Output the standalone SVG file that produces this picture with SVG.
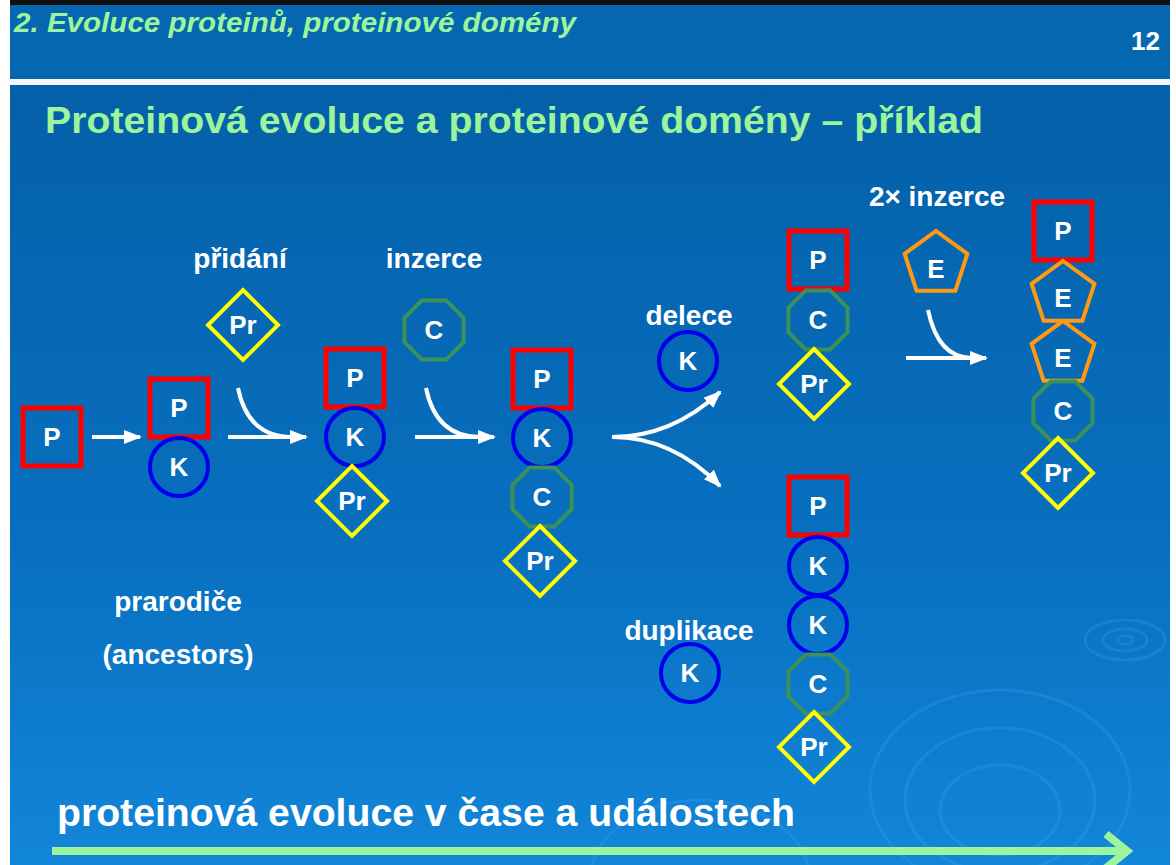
<svg xmlns="http://www.w3.org/2000/svg" width="1176" height="865" viewBox="0 0 1176 865">
<defs>
<linearGradient id="bg" x1="0" y1="0" x2="0" y2="1">
<stop offset="0" stop-color="#0460a8"/>
<stop offset="0.6" stop-color="#0870c0"/>
<stop offset="1" stop-color="#1286da"/>
</linearGradient>
<marker id="ah" markerUnits="userSpaceOnUse" markerWidth="18" markerHeight="18" viewBox="0 0 18 18" refX="16" refY="9" orient="auto">
<path d="M0,2 L18,9 L0,16 Z" fill="#ffffff"/>
</marker>
<rect id="sq" x="-29" y="-29" width="58" height="58"/>
<polygon id="oct" points="-12.2,-29.6 12.2,-29.6 29.6,-12.2 29.6,12.2 12.2,29.6 -12.2,29.6 -29.6,12.2 -29.6,-12.2"/>
<polygon id="dia" points="0,-35 35,0 0,35 -35,0"/>
<polygon id="pen" points="0,-33 31.4,-10.2 19.4,26.7 -19.4,26.7 -31.4,-10.2"/>
</defs>
<style>
.p{fill:none;stroke:#ff0000;stroke-width:5}
.k{fill:none;stroke:#0000ee;stroke-width:4}
.c{fill:none;stroke:#3a9258;stroke-width:4}
.pr{fill:none;stroke:#ffff00;stroke-width:4}
.e{fill:none;stroke:#ff9a10;stroke-width:4}
.t{font-family:"Liberation Sans",Arial,sans-serif;font-weight:bold;font-size:26px;fill:#ffffff;text-anchor:middle}
.lab{font-family:"Liberation Sans",Arial,sans-serif;font-weight:bold;font-size:28px;fill:#ffffff;text-anchor:middle}
.ar{fill:none;stroke:#ffffff;stroke-width:4}
.rip{fill:none;stroke:#3aa0ea;stroke-opacity:0.28;stroke-width:3}
</style>
<rect x="0" y="0" width="1176" height="865" fill="#ffffff"/>
<rect x="10" y="0" width="1160" height="6" fill="#101010"/>
<rect x="10" y="5" width="1160" height="74" fill="#0567b0"/>
<rect x="10" y="79" width="1160" height="6" fill="#f4f8fc"/>
<rect x="10" y="85" width="1160" height="780" fill="url(#bg)"/>
<g id="ripples">
<ellipse class="rip" cx="1125" cy="640" rx="40" ry="20"/>
<ellipse class="rip" cx="1125" cy="640" rx="22" ry="11"/>
<ellipse class="rip" cx="1125" cy="640" rx="8" ry="4"/>
<ellipse class="rip" cx="1000" cy="790" rx="130" ry="100"/>
<ellipse class="rip" cx="1000" cy="800" rx="95" ry="72"/>
<ellipse class="rip" cx="1000" cy="810" rx="60" ry="45"/>
<ellipse class="rip" cx="700" cy="880" rx="110" ry="80"/>
</g>
<text x="14" y="32" font-family="'Liberation Sans',Arial,sans-serif" font-weight="bold" font-style="italic" font-size="28" fill="#9cf59c" textLength="562" lengthAdjust="spacingAndGlyphs">2. Evoluce proteinů, proteinové domény</text>
<text x="1160" y="50" font-family="'Liberation Sans',Arial,sans-serif" font-weight="bold" font-size="26" fill="#ffffff" text-anchor="end">12</text>
<text x="45" y="133" font-family="'Liberation Sans',Arial,sans-serif" font-weight="bold" font-size="37" fill="#9cf59c" textLength="938" lengthAdjust="spacingAndGlyphs">Proteinová evoluce a proteinové domény – příklad</text>
<text class="lab" x="240" y="268">přidání</text>
<text class="lab" x="434" y="268">inzerce</text>
<text class="lab" x="689" y="325">delece</text>
<text class="lab" x="937" y="206">2× inzerce</text>
<text class="lab" x="178" y="611">prarodiče</text>
<text class="lab" x="178" y="664">(ancestors)</text>
<text class="lab" x="689" y="640">duplikace</text>
<text x="57" y="826" font-family="'Liberation Sans',Arial,sans-serif" font-weight="bold" font-size="38" fill="#ffffff" textLength="738" lengthAdjust="spacingAndGlyphs">proteinová evoluce v čase a událostech</text>
<g id="connectors">
<line class="ar" x1="92" y1="437" x2="140" y2="437" marker-end="url(#ah)"/>
<line class="ar" x1="228" y1="437" x2="306" y2="437" marker-end="url(#ah)"/>
<path class="ar" d="M238,388 Q248,437 292,437"/>
<line class="ar" x1="415" y1="437" x2="494" y2="437" marker-end="url(#ah)"/>
<path class="ar" d="M426,388 Q436,437 480,437"/>
<path class="ar" d="M612,437 C655,437 690,420 720,392" marker-end="url(#ah)"/>
<path class="ar" d="M612,437 C655,437 690,455 720,486" marker-end="url(#ah)"/>
<line class="ar" x1="906" y1="358" x2="986" y2="358" marker-end="url(#ah)"/>
<path class="ar" d="M928,310 Q938,358 972,358"/>
<g id="time-arrow" stroke="#9cf59c" stroke-width="8" fill="none">
<line x1="52" y1="851" x2="1126" y2="851"/>
<polyline points="1106,834 1127,851 1106,868" stroke-linejoin="miter"/>
</g>
</g>
<g id="n-p0"><use href="#sq" class="p" x="52" y="437"/><text class="t" x="52" y="446">P</text></g>
<g id="n-pk">
<use href="#sq" class="p" x="179" y="408"/><text class="t" x="179" y="417">P</text>
<circle class="k" cx="179" cy="467" r="29"/><text class="t" x="179" y="476">K</text>
</g>
<g id="n-add-pr"><use href="#dia" class="pr" x="243" y="325"/><text class="t" x="243" y="334">Pr</text></g>
<g id="n-pkpr">
<use href="#sq" class="p" x="355" y="378"/><text class="t" x="355" y="387">P</text>
<circle class="k" cx="355" cy="437" r="29"/><text class="t" x="355" y="446">K</text>
<use href="#dia" class="pr" x="352" y="501"/><text class="t" x="352" y="510">Pr</text>
</g>
<g id="n-ins-c"><use href="#oct" class="c" x="434" y="330"/><text class="t" x="434" y="339">C</text></g>
<g id="n-pkcpr">
<use href="#sq" class="p" x="542" y="379"/><text class="t" x="542" y="388">P</text>
<circle class="k" cx="542" cy="438" r="29"/><text class="t" x="542" y="447">K</text>
<use href="#oct" class="c" x="542" y="497"/><text class="t" x="542" y="506">C</text>
<use href="#dia" class="pr" x="540" y="561"/><text class="t" x="540" y="570">Pr</text>
</g>
<g id="n-del-k"><circle class="k" cx="688" cy="361" r="29"/><text class="t" x="688" y="370">K</text></g>
<g id="n-pcpr">
<use href="#sq" class="p" x="818" y="260"/><text class="t" x="818" y="269">P</text>
<use href="#oct" class="c" x="818" y="320"/><text class="t" x="818" y="329">C</text>
<use href="#dia" class="pr" x="814" y="384"/><text class="t" x="814" y="393">Pr</text>
</g>
<g id="n-ins-e"><use href="#pen" class="e" x="936" y="264"/><text class="t" x="936" y="278">E</text></g>
<g id="n-peecpr">
<use href="#sq" class="p" x="1063" y="231"/><text class="t" x="1063" y="240">P</text>
<use href="#pen" class="e" x="1063" y="294"/><text class="t" x="1063" y="307">E</text>
<use href="#pen" class="e" x="1063" y="354"/><text class="t" x="1063" y="367">E</text>
<use href="#oct" class="c" x="1063" y="411"/><text class="t" x="1063" y="420">C</text>
<use href="#dia" class="pr" x="1058" y="473"/><text class="t" x="1058" y="482">Pr</text>
</g>
<g id="n-dup-k"><circle class="k" cx="690" cy="673" r="29"/><text class="t" x="690" y="682">K</text></g>
<g id="n-pkkcpr">
<use href="#sq" class="p" x="818" y="506"/><text class="t" x="818" y="515">P</text>
<circle class="k" cx="818" cy="566" r="29"/><text class="t" x="818" y="575">K</text>
<circle class="k" cx="818" cy="625" r="29"/><text class="t" x="818" y="634">K</text>
<use href="#oct" class="c" x="818" y="684"/><text class="t" x="818" y="693">C</text>
<use href="#dia" class="pr" x="814" y="747"/><text class="t" x="814" y="756">Pr</text>
</g>
</svg>
